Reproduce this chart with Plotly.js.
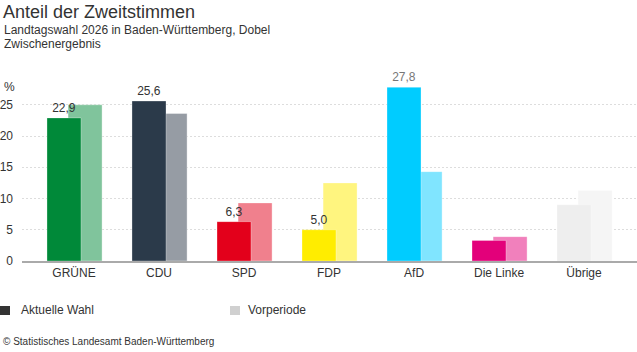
<!DOCTYPE html>
<html>
<head>
<meta charset="utf-8">
<script src="https://cdn.plot.ly/plotly-3.0.1.min.js"></script>
<style>html,body{margin:0;padding:0;background:#fff;}#chart{width:637px;height:352px;}</style>
</head>
<body>
<div id="chart"></div>
<script>
const categories = ["GRÜNE", "CDU", "SPD", "FDP", "AfD", "Die Linke", "Übrige"];
const currentValues = [22.9, 25.6, 6.3, 5.0, 27.8, 3.3, 9.0];
const previousValues = [25.0, 23.6, 9.3, 12.5, 14.3, 3.9, 11.3];
const currentLabels = ["22,9", "25,6", "6,3", "5,0", "27,8", "", ""];
const currentColors = ["#008939", "#2b3a4a", "#e3001b", "#ffed00", "#00ccff", "#e3007a", "#eeeeee"];
const previousColors = ["#80c49c", "#969ca4", "#f0808d", "#fff57f", "#80e5ff", "#f180bc", "#f5f5f5"];
const labelColors = ["#333", "#333", "#333", "#333", "#777", "#333", "#333"];
const yTicks = [0, 5, 10, 15, 20, 25];

const L = 22, T = 86, B = 91, W = 637, H = 352;
const plotW = W - L, plotH = H - T - B;
const px = x => (x - L) / plotW;
const py = y => (H - B - y) / plotH;

const previousTrace = {
  type: "bar", x: categories, y: previousValues,
  width: 0.4, offset: -0.07,
  marker: {color: previousColors, line: {color: "rgba(255,255,255,0.35)", width: 1}},
  hoverinfo: "none", showlegend: false, cliponaxis: false
};
const currentTrace = {
  type: "bar", x: categories, y: currentValues,
  width: 0.4, offset: -0.318,
  text: currentLabels, textposition: "outside",
  textfont: {size: 12, color: labelColors, family: "Liberation Sans, Arial, sans-serif"},
  marker: {color: currentColors, line: {color: "rgba(255,255,255,0.3)", width: 1}},
  hoverinfo: "none", showlegend: false, cliponaxis: false
};

const ann = [];
function addText(text, x, y, size, color, xanchor, yanchor) {
  ann.push({text: text, xref: "paper", yref: "paper", x: px(x), y: py(y), showarrow: false,
    xanchor: xanchor || "left", yanchor: yanchor || "middle",
    font: {size: size, color: color, family: "Liberation Sans, Arial, sans-serif"}});
}
addText("Anteil der Zweitstimmen", 1, 12, 18, "#333");
addText("Landtagswahl 2026 in Baden-Württemberg, Dobel", 2, 30, 12, "#333");
addText("Zwischenergebnis", 2, 44, 12, "#333");
addText("%", 2, 87, 12, "#333");
addText("Aktuelle Wahl", 19, 310, 12, "#333");
addText("Vorperiode", 246, 310, 12, "#333");
addText("© Statistisches Landesamt Baden-Württemberg", 1, 341, 10, "#333");

const shapes = [
  {type: "rect", xref: "paper", yref: "paper", x0: px(0), x1: px(10), y0: py(315), y1: py(306), fillcolor: "#333", line: {width: 0}},
  {type: "rect", xref: "paper", yref: "paper", x0: px(230), x1: px(240), y0: py(315), y1: py(306), fillcolor: "#d0d0d0", line: {width: 0}}
];

const layout = {
  width: W, height: H,
  margin: {l: L, r: 0, t: T, b: B, pad: 0},
  paper_bgcolor: "#fff", plot_bgcolor: "#fff",
  barmode: "overlay",
  font: {family: "Liberation Sans, Arial, sans-serif", color: "#333", size: 12},
  xaxis: {
    type: "category", range: [-0.612, 6.623], showgrid: false, zeroline: false,
    showline: true, linecolor: "#aaa", linewidth: 2, ticks: "",
    tickfont: {size: 12, color: "#333"}, fixedrange: true
  },
  yaxis: {
    range: [0, 28], tickvals: yTicks, ticktext: yTicks.map(String),
    showgrid: true, gridcolor: "#dddddd", gridwidth: 1, griddash: "2px,2px",
    zeroline: false, showline: false, ticks: "", ticklabelstandoff: 8,
    tickfont: {size: 12, color: "#333"}, fixedrange: true
  },
  annotations: ann,
  shapes: shapes,
  showlegend: false
};

Plotly.newPlot("chart", [previousTrace, currentTrace], layout, {displayModeBar: false, staticPlot: true});
</script>
</body>
</html>
